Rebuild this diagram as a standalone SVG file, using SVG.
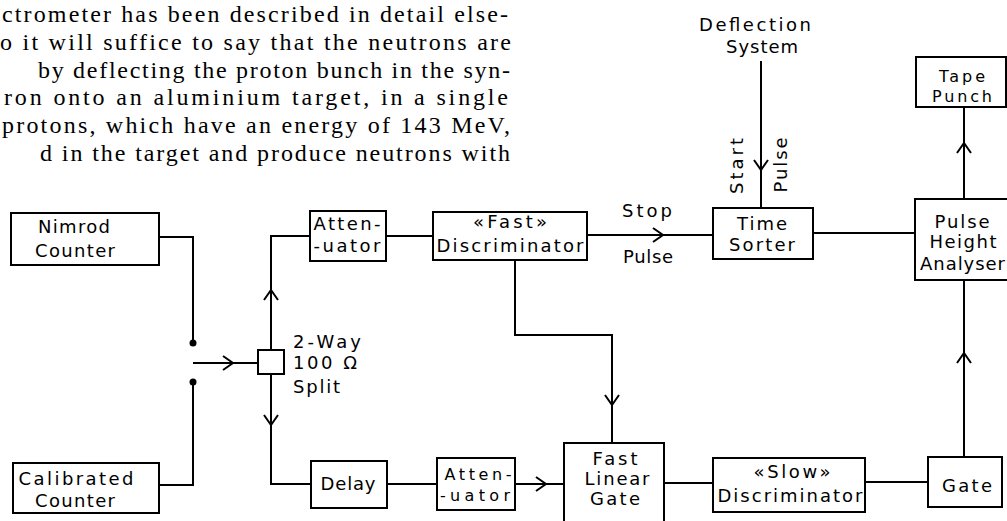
<svg xmlns="http://www.w3.org/2000/svg" xmlns:xlink="http://www.w3.org/1999/xlink" width="1007" height="521" viewBox="0 0 1007 521">
<style>
.box{fill:none;stroke:#000;stroke-width:2}
.ln{fill:none;stroke:#000;stroke-width:2}
.t{font-family:"DejaVu Sans","Liberation Sans",sans-serif;font-size:18px;fill:#000;text-anchor:middle}
.ts{font-family:"DejaVu Sans","Liberation Sans",sans-serif;font-size:18px;fill:#000;text-anchor:start}
.sm{font-size:16px}
.p{font-family:"Liberation Serif",serif;font-size:24px;fill:#000}
</style>
<defs>
<path id="ah" d="M-10,-7 L0,0 L-10,7" fill="none" stroke="#000" stroke-width="2"/>
</defs>
<rect width="1007" height="521" fill="#fff"/>
<g id="paragraph">
<text class="p" x="2" y="22" textLength="506" lengthAdjust="spacing">ctrometer has been described in detail else-</text>
<text class="p" x="0" y="50" textLength="511" lengthAdjust="spacing">o it will suffice to say that the neutrons are</text>
<text class="p" x="38" y="78" textLength="472" lengthAdjust="spacing">by deflecting the proton bunch in the syn-</text>
<text class="p" x="4" y="105" textLength="504" lengthAdjust="spacing">ron onto an aluminium target, in a single</text>
<text class="p" x="2" y="133" textLength="508" lengthAdjust="spacing">protons, which have an energy of 143 MeV,</text>
<text class="p" x="40" y="161" textLength="470" lengthAdjust="spacing">d in the target and produce neutrons with</text>
</g>
<g id="connectors">
<path class="ln" d="M159,237 H193 V343"/>
<path class="ln" d="M159,485 H193 V382"/>
<circle cx="193" cy="343" r="3.5" fill="#000"/>
<circle cx="193" cy="382" r="3.5" fill="#000"/>
<path class="ln" d="M193,363 H258"/>
<use xlink:href="#ah" transform="translate(233,363)"/>
<path class="ln" d="M271,350 V236 H310"/>
<use xlink:href="#ah" transform="translate(271,290) rotate(-90)"/>
<path class="ln" d="M271,374 V484 H311"/>
<use xlink:href="#ah" transform="translate(271,425) rotate(90)"/>
<path class="ln" d="M386,236 H433"/>
<path class="ln" d="M587,235 H713"/>
<use xlink:href="#ah" transform="translate(663,235)"/>
<path class="ln" d="M515,260 V335 H612 V443"/>
<use xlink:href="#ah" transform="translate(612,405) rotate(90)"/>
<path class="ln" d="M387,484 H437"/>
<path class="ln" d="M515,484 H564"/>
<use xlink:href="#ah" transform="translate(546,484)"/>
<path class="ln" d="M664,483 H713"/>
<path class="ln" d="M865,482 H928"/>
<path class="ln" d="M964,457 V280"/>
<use xlink:href="#ah" transform="translate(964,353) rotate(-90)"/>
<path class="ln" d="M813,233 H915"/>
<path class="ln" d="M964,199 V107"/>
<use xlink:href="#ah" transform="translate(964,143) rotate(-90)"/>
<path class="ln" d="M761,61 V208"/>
<use xlink:href="#ah" transform="translate(761,170) rotate(90)"/>
</g>
<g id="deflection-system">
<text class="t" x="755" y="31" textLength="112" lengthAdjust="spacing">Deflection</text>
<text class="t" x="762" y="53" textLength="72" lengthAdjust="spacing">System</text>
</g>
<g id="start-pulse-label">
<text class="t" transform="translate(743,166) rotate(-90)" textLength="56" lengthAdjust="spacing">Start</text>
<text class="t" transform="translate(787,165) rotate(-90)" textLength="55" lengthAdjust="spacing">Pulse</text>
</g>
<g id="stop-pulse-label">
<text class="t" x="647" y="217" textLength="50" lengthAdjust="spacing">Stop</text>
<text class="t" x="648" y="263" textLength="50" lengthAdjust="spacing">Pulse</text>
</g>
<g id="nimrod-counter">
<rect class="box" x="11" y="213" width="148" height="52"/>
<text class="t" x="74" y="233" textLength="72" lengthAdjust="spacing">Nimrod</text>
<text class="t" x="75" y="257" textLength="80" lengthAdjust="spacing">Counter</text>
</g>
<g id="calibrated-counter">
<rect class="box" x="13" y="463" width="146" height="50"/>
<text class="t" x="76" y="485" textLength="115" lengthAdjust="spacing">Calibrated</text>
<text class="t" x="75" y="507" textLength="80" lengthAdjust="spacing">Counter</text>
</g>
<g id="split">
<rect class="box" x="258" y="350" width="26" height="24"/>
<text class="ts" x="293" y="348" textLength="68" lengthAdjust="spacing">2-Way</text>
<text class="ts" x="293" y="369" textLength="64" lengthAdjust="spacing">100 Ω</text>
<text class="ts" x="293" y="393" textLength="47" lengthAdjust="spacing">Split</text>
</g>
<g id="attenuator-1">
<rect class="box" x="310" y="211" width="76" height="50"/>
<text class="t" x="347" y="230" textLength="67" lengthAdjust="spacing">Atten-</text>
<text class="t" x="347" y="252" textLength="67" lengthAdjust="spacing">-uator</text>
</g>
<g id="fast-discriminator">
<rect class="box" x="433" y="212" width="154" height="48"/>
<text class="t" x="510" y="228" textLength="74" lengthAdjust="spacing">«Fast»</text>
<text class="t" x="510" y="252" textLength="147" lengthAdjust="spacing">Discriminator</text>
</g>
<g id="time-sorter">
<rect class="box" x="713" y="208" width="100" height="51"/>
<text class="t" x="762" y="230" textLength="50" lengthAdjust="spacing">Time</text>
<text class="t" x="762" y="251" textLength="66" lengthAdjust="spacing">Sorter</text>
</g>
<g id="tape-punch">
<rect class="box" x="916" y="57" width="90" height="50"/>
<text class="t sm" x="962" y="82" textLength="46" lengthAdjust="spacing">Tape</text>
<text class="t sm" x="962" y="102" textLength="60" lengthAdjust="spacing">Punch</text>
</g>
<g id="pulse-height-analyser">
<rect class="box" x="915" y="199" width="100" height="81"/>
<text class="t" x="962" y="228" textLength="55" lengthAdjust="spacing">Pulse</text>
<text class="t" x="963" y="248" textLength="67" lengthAdjust="spacing">Height</text>
<text class="ts" x="920" y="270" textLength="85" lengthAdjust="spacing">Analyser</text>
</g>
<g id="delay">
<rect class="box" x="311" y="461" width="76" height="47"/>
<text class="t" x="348" y="490" textLength="55" lengthAdjust="spacing">Delay</text>
</g>
<g id="attenuator-2">
<rect class="box" x="437" y="458" width="78" height="52"/>
<text class="t sm" x="478" y="480" textLength="67" lengthAdjust="spacing">Atten-</text>
<text class="t sm" x="475" y="501" textLength="70" lengthAdjust="spacing">-uator</text>
</g>
<g id="fast-linear-gate">
<rect class="box" x="564" y="443" width="100" height="90"/>
<text class="t" x="615" y="465" textLength="45" lengthAdjust="spacing">Fast</text>
<text class="t" x="617" y="485" textLength="65" lengthAdjust="spacing">Linear</text>
<text class="t" x="615" y="505" textLength="50" lengthAdjust="spacing">Gate</text>
</g>
<g id="slow-discriminator">
<rect class="box" x="713" y="458" width="152" height="54"/>
<text class="t" x="792" y="478" textLength="77" lengthAdjust="spacing">«Slow»</text>
<text class="t" x="790" y="502" textLength="145" lengthAdjust="spacing">Discriminator</text>
</g>
<g id="gate">
<rect class="box" x="928" y="457" width="74" height="50"/>
<text class="t" x="967" y="492" textLength="50" lengthAdjust="spacing">Gate</text>
</g>
</svg>
